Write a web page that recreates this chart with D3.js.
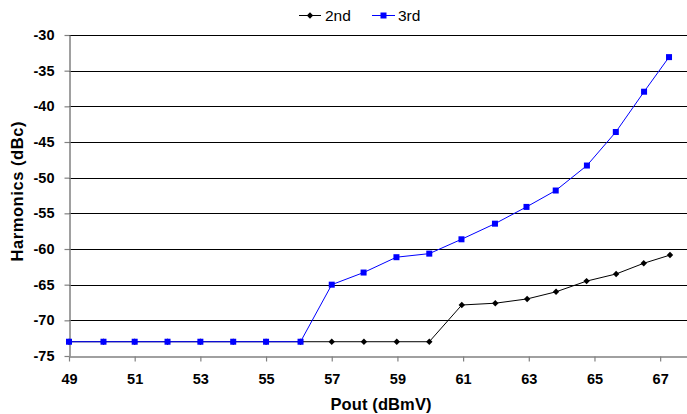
<!DOCTYPE html>
<html><head><meta charset="utf-8">
<script src="https://cdn.jsdelivr.net/npm/d3@7"></script>
<style>body{margin:0;background:#fff}svg{display:block}text{font-family:"Liberation Sans",Arial,sans-serif}</style>
</head><body><svg id="c" width="687" height="414"></svg>
<script>
const seriesNames = ["2nd", "3rd"];
const x2nd = [49,50.05,51,52,53,54,55,56.05,57,57.98,58.98,59.97,60.96,61.98,62.95,63.83,64.76,65.66,66.5,67.3];
const y2nd = [-73,-73,-73,-73,-73,-73,-73,-73,-73,-73,-73,-73,-67.85,-67.6,-67.0,-66.0,-64.5,-63.5,-62.0,-60.85];
const x3rd = [49,50.05,51,52,53,54,55,56.05,57,57.97,58.97,59.97,60.95,61.97,62.93,63.82,64.77,65.65,66.51,67.27];
const y3rd = [-73,-73,-73,-73,-73,-73,-73,-73,-65.0,-63.3,-61.15,-60.65,-58.64,-56.45,-54.1,-51.8,-48.3,-43.6,-37.95,-33.1];
const xTicks = [49,51,53,55,57,59,61,63,65,67];
const yTicks = [-30,-35,-40,-45,-50,-55,-60,-65,-70,-75];
const xTitle = "Pout (dBmV)";
const yTitle = "Harmonics (dBc)";

const svg = d3.select("#c");
const x = d3.scaleLinear().domain([49,68]).range([69,693]);
const y = d3.scaleLinear().domain([-75,-30]).range([356,35]);

// gridlines
svg.append("g").selectAll("line").data(yTicks.filter(d=>d!==-75)).join("line")
  .attr("x1",69).attr("x2",693).attr("y1",d=>Math.round(y(d))+0.5).attr("y2",d=>Math.round(y(d))+0.5)
  .attr("stroke","#000").attr("stroke-width",1);

// axes
const xa = svg.append("g").attr("transform",`translate(0,${Math.round(y(-75))+0.5})`)
  .call(d3.axisBottom(x).tickValues(xTicks).tickSize(5).tickPadding(12).tickSizeOuter(0));
const ya = svg.append("g").attr("transform",`translate(${Math.round(x(49))+0.5},0)`)
  .call(d3.axisLeft(y).tickValues(yTicks).tickSize(5).tickPadding(10).tickSizeOuter(0)
  .tickFormat(d=>String(d)));
[xa,ya].forEach(a=>{
  a.select(".domain").attr("stroke","#808080").attr("stroke-width",1.5);
  a.selectAll(".tick line").attr("stroke","#808080").attr("stroke-width",1.2);
  a.selectAll(".tick text").attr("fill","#000").attr("font-size",14.5).attr("font-weight","bold")
   .attr("font-family","'Liberation Sans',Arial,sans-serif");
});

// lines
const mk = (xs,ys)=>xs.map((v,i)=>({x:v,y:ys[i]}));
const d2 = mk(x2nd,y2nd), d3s = mk(x3rd,y3rd);
const line = d3.line().x(d=>x(d.x)).y(d=>y(d.y));
svg.append("path").datum(d2).attr("d",line).attr("fill","none").attr("stroke","#000").attr("stroke-width",1);
svg.append("g").selectAll("path").data(d2).join("path")
  .attr("d",d3.symbol(d3.symbolDiamond2,26)).attr("transform",d=>`translate(${x(d.x)},${y(d.y)})`).attr("fill","#000");
svg.append("path").datum(d3s).attr("d",line).attr("fill","none").attr("stroke","#0000FF").attr("stroke-width",1);
svg.append("g").selectAll("rect").data(d3s).join("rect")
  .attr("x",d=>x(d.x)-3).attr("y",d=>y(d.y)-3).attr("width",6).attr("height",6).attr("fill","#0000FF");

// titles
svg.append("text").attr("x",381).attr("y",410).attr("text-anchor","middle")
  .attr("font-size",16.5).attr("font-weight","bold")
  .attr("textLength",101).attr("lengthAdjust","spacing").text(xTitle);
svg.append("text").attr("transform",`translate(22.5,${(35+356)/2 - 4}) rotate(-90)`).attr("text-anchor","middle")
  .attr("font-size",16.5).attr("font-weight","bold")
  .attr("textLength",140).attr("lengthAdjust","spacing").text(yTitle);

// legend
const lg = svg.append("g");
lg.append("line").attr("x1",299).attr("x2",321).attr("y1",15.5).attr("y2",15.5).attr("stroke","#000");
lg.append("path").attr("d",d3.symbol(d3.symbolDiamond2,26)).attr("transform","translate(310,15.5)").attr("fill","#000");
lg.append("text").attr("x",325).attr("y",21).attr("font-size",15.5).text(seriesNames[0]);
lg.append("line").attr("x1",372).attr("x2",395).attr("y1",15.5).attr("y2",15.5).attr("stroke","#0000FF");
lg.append("rect").attr("x",380.5).attr("y",12.5).attr("width",6).attr("height",6).attr("fill","#0000FF");
lg.append("text").attr("x",398).attr("y",21).attr("font-size",15.5).text(seriesNames[1]);
</script></body></html>
